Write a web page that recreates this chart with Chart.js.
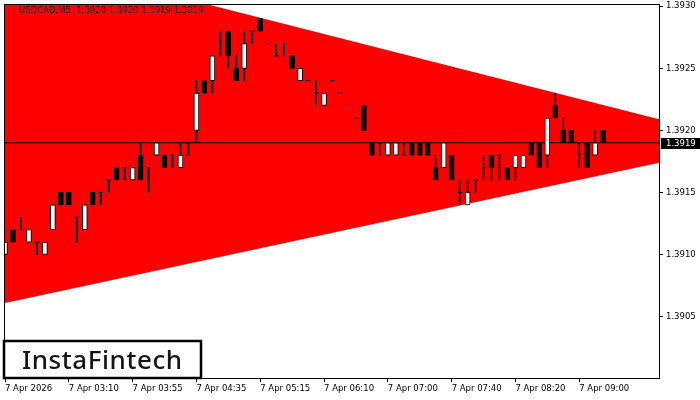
<!DOCTYPE html>
<html>
<head>
<meta charset="utf-8">
<script src="https://cdn.jsdelivr.net/npm/chart.js@4.4.1/dist/chart.umd.min.js"></script>
<style>
  html, body { margin: 0; padding: 0; background: #fff; }
  #wrap { width: 700px; height: 400px; }
</style>
</head>
<body>
<div id="wrap"><canvas id="chart" width="700" height="400"></canvas></div>
<script>
const symbolTitle = "USDCAD,M5";
const brandName = "InstaFintech";

// M5 candles, index 0 = first bar on screen
const openP = [
  1.3910, 1.3912, 1.3912, 1.3911, 1.3911, 1.3910, 1.3912, 1.3915, 1.3915, 1.3913,
  1.3912, 1.3915, 1.3915, 1.3916, 1.3917, 1.3917, 1.3916, 1.3918, 1.3917, 1.3918,
  1.3918, 1.3918, 1.3917, 1.3919, 1.3920, 1.3924, 1.3924, 1.3927, 1.3928, 1.3925,
  1.3925, 1.3928, 1.3929, 1.3927, 1.3926, 1.3927, 1.3926, 1.3924, 1.3924, 1.3923,
  1.3922, 1.3924, 1.3923, 1.3922, 1.3921, 1.3922, 1.3919, 1.3919, 1.3918, 1.3918,
  1.3918, 1.3919, 1.3919, 1.3919, 1.3917, 1.3917, 1.3918, 1.3915, 1.3914, 1.3916,
  1.3917, 1.3918, 1.3918, 1.3917, 1.3917, 1.3917, 1.3919, 1.3919, 1.3918, 1.3922,
  1.3920, 1.3920, 1.3918, 1.3919, 1.3918, 1.3920
];
const highP = [
  1.3911, 1.3912, 1.3913, 1.3912, 1.3911, 1.3911, 1.3914, 1.3915, 1.3915, 1.3913,
  1.3914, 1.3915, 1.3915, 1.3916, 1.3917, 1.3917, 1.3917, 1.3919, 1.3917, 1.3919,
  1.3918, 1.3918, 1.3919, 1.3919, 1.3924, 1.3924, 1.3926, 1.3928, 1.3928, 1.3926,
  1.3928, 1.3928, 1.3929, 1.3927, 1.3927, 1.3927, 1.3926, 1.3925, 1.3924, 1.3924,
  1.3923, 1.3924, 1.3923, 1.3922, 1.3921, 1.3922, 1.3919, 1.3919, 1.3919, 1.3919,
  1.3919, 1.3919, 1.3919, 1.3919, 1.3918, 1.3919, 1.3918, 1.3916, 1.3916, 1.3916,
  1.3918, 1.3918, 1.3918, 1.3917, 1.3918, 1.3918, 1.3919, 1.3919, 1.3921, 1.3923,
  1.3921, 1.3920, 1.3919, 1.3919, 1.3920, 1.3920
];
const lowP = [
  1.3910, 1.3911, 1.3912, 1.3911, 1.3910, 1.3910, 1.3912, 1.3914, 1.3914, 1.3911,
  1.3912, 1.3914, 1.3914, 1.3915, 1.3916, 1.3916, 1.3916, 1.3916, 1.3915, 1.3918,
  1.3917, 1.3917, 1.3917, 1.3918, 1.3919, 1.3923, 1.3923, 1.3926, 1.3925, 1.3924,
  1.3924, 1.3927, 1.3928, 1.3927, 1.3926, 1.3926, 1.3925, 1.3924, 1.3924, 1.3922,
  1.3922, 1.3924, 1.3923, 1.3922, 1.3921, 1.3920, 1.3918, 1.3918, 1.3918, 1.3918,
  1.3918, 1.3918, 1.3918, 1.3918, 1.3916, 1.3917, 1.3916, 1.3914, 1.3914, 1.3915,
  1.3916, 1.3916, 1.3916, 1.3916, 1.3916, 1.3917, 1.3918, 1.3917, 1.3917, 1.3921,
  1.3919, 1.3919, 1.3917, 1.3917, 1.3918, 1.3919
];
const closeP = [
  1.3911, 1.3911, 1.3912, 1.3912, 1.3911, 1.3911, 1.3914, 1.3914, 1.3914, 1.3913,
  1.3914, 1.3914, 1.3915, 1.3916, 1.3916, 1.3917, 1.3917, 1.3916, 1.3917, 1.3919,
  1.3917, 1.3918, 1.3918, 1.3919, 1.3923, 1.3923, 1.3926, 1.3927, 1.3926, 1.3924,
  1.3927, 1.3928, 1.3928, 1.3927, 1.3926, 1.3927, 1.3925, 1.3925, 1.3924, 1.3923,
  1.3923, 1.3924, 1.3923, 1.3922, 1.3921, 1.3920, 1.3918, 1.3919, 1.3919, 1.3919,
  1.3918, 1.3918, 1.3918, 1.3918, 1.3916, 1.3919, 1.3916, 1.3915, 1.3915, 1.3916,
  1.3917, 1.3917, 1.3918, 1.3916, 1.3918, 1.3918, 1.3918, 1.3917, 1.3921, 1.3921,
  1.3919, 1.3919, 1.3918, 1.3917, 1.3919, 1.3919
];

// time axis labels and the bar index they sit on
const timeTickBars = [0, 8, 16, 24, 32, 40, 48, 56, 64, 72];
const timeTickLabels = [
  "7 Apr 2026", "7 Apr 03:10", "7 Apr 03:55", "7 Apr 04:35", "7 Apr 05:15",
  "7 Apr 06:10", "7 Apr 07:00", "7 Apr 07:40", "7 Apr 08:20", "7 Apr 09:00"
];
const priceTicks = [1.3905, 1.3910, 1.3915, 1.3920, 1.3925, 1.3930];

// triangle pattern borders (bar index -> price)
const patternBars = [0, 82];
const patternUpper = [1.39343, 1.39209];
const patternLower = [1.39061, 1.39174];

const AXIS_FONT = { family: "DejaVu Sans, Verdana, sans-serif", size: 8.5 };
const lastIdx = closeP.length - 1;
const bidPrice = closeP[lastIdx];

const bodyData = [], bodyColors = [], dojiData = [], wickData = [];
openP.forEach((o, i) => {
  const c = closeP[i];
  if (highP[i] > lowP[i]) wickData.push({ x: i, y: [lowP[i], highP[i]] });
  if (o === c) {
    dojiData.push({ x: i, y: o });
  } else {
    bodyData.push({ x: i, y: [Math.min(o, c), Math.max(o, c)] });
    bodyColors.push(c > o ? "#ffffff" : "#000000");
  }
});

const overlayPlugin = {
  id: "overlay",
  afterDraw(chart) {
    const { ctx, chartArea: a, scales } = chart;
    ctx.save();
    // frame
    ctx.strokeStyle = "#000";
    ctx.lineWidth = 1;
    ctx.strokeRect(a.left - 0.5, a.top - 0.5, a.right - a.left + 1, a.bottom - a.top + 1);

    // header
    ctx.font = "8.5px DejaVu Sans, Verdana, sans-serif";
    ctx.fillStyle = "#111";
    ctx.textBaseline = "middle";
    ctx.textAlign = "left";
    const f = v => v.toFixed(4);
    ctx.fillText(symbolTitle + "  " + f(openP[lastIdx]) + " " + f(highP[lastIdx]) + " " +
      f(lowP[lastIdx]) + " " + f(closeP[lastIdx]), 19, 11);

    // bid price tag
    const y = Math.round(scales.y.getPixelForValue(bidPrice));
    ctx.fillStyle = "#000";
    ctx.fillRect(a.right + 2, y - 5, 700 - a.right - 2, 11);
    ctx.fillStyle = "#fff";
    ctx.fillText(bidPrice.toFixed(4), a.right + 7, y + 0.5);

    // logo box
    ctx.fillStyle = "#fff";
    ctx.fillRect(3, 341, 198, 37);
    ctx.strokeStyle = "#000";
    ctx.lineWidth = 2.5;
    ctx.strokeRect(4, 341, 197, 37);
    ctx.font = "500 26px Noto Sans, sans-serif";
    const w = ctx.measureText(brandName).width;
    ctx.letterSpacing = ((160 - w) / (brandName.length - 1)).toFixed(2) + "px";
    ctx.fillStyle = "#151515";
    ctx.textBaseline = "alphabetic";
    ctx.fillText(brandName, 22, 369);
    ctx.restore();
  }
};

new Chart(document.getElementById("chart"), {
  type: "bar",
  data: {
    datasets: [
      {
        type: "bar", data: bodyData, backgroundColor: bodyColors,
        borderColor: "#000", borderWidth: 1, borderSkipped: false,
        barThickness: 5, grouped: false, order: 0
      },
      {
        type: "line", data: dojiData, showLine: false,
        pointStyle: "line", pointRadius: 2.5, pointBorderColor: "#000",
        pointBorderWidth: 1, order: 1
      },
      {
        type: "bar", data: wickData, backgroundColor: "#000",
        barThickness: 1, grouped: false, order: 2
      },
      {
        type: "line", data: patternBars.map((x) => ({ x, y: bidPrice })),
        borderColor: "#000", borderWidth: 1, pointRadius: 0, order: 3
      },
      {
        type: "line", data: patternBars.map((x, i) => ({ x, y: patternUpper[i] })),
        borderWidth: 0, pointRadius: 0, fill: "+1",
        backgroundColor: "#ff0000", order: 4
      },
      {
        type: "line", data: patternBars.map((x, i) => ({ x, y: patternLower[i] })),
        borderWidth: 0, pointRadius: 0, fill: false, order: 5
      }
    ]
  },
  options: {
    responsive: false,
    animation: false,
    layout: { padding: { left: 3, top: 3, right: 0, bottom: 0 } },
    plugins: { legend: { display: false }, tooltip: { enabled: false } },
    scales: {
      x: {
        type: "linear", min: 0, max: 82, offset: false,
        grid: { display: true, drawOnChartArea: false, drawTicks: true, tickLength: 4, color: "#000", offset: false },
        border: { display: false },
        afterBuildTicks: (s) => { s.ticks = timeTickBars.map(v => ({ value: v })); },
        afterFit: (s) => { s.height = 22; s.paddingLeft = 0; s.paddingRight = 0; },
        ticks: {
          autoSkip: false, maxRotation: 0, align: "start", padding: 2,
          color: "#000", font: AXIS_FONT,
          callback: (v, i) => timeTickLabels[i]
        }
      },
      y: {
        position: "right", min: 1.390005, max: 1.39301,
        grid: { display: true, drawOnChartArea: false, drawTicks: true, tickLength: 4, color: "#000" },
        border: { display: false },
        afterBuildTicks: (s) => { s.ticks = priceTicks.map(v => ({ value: v })); },
        afterFit: (s) => { s.width = 41; s.paddingTop = 0; s.paddingBottom = 0; },
        ticks: {
          padding: 3, color: "#000", font: AXIS_FONT,
          callback: (v) => v.toFixed(4)
        }
      }
    }
  },
  plugins: [overlayPlugin]
});
</script>
</body>
</html>
